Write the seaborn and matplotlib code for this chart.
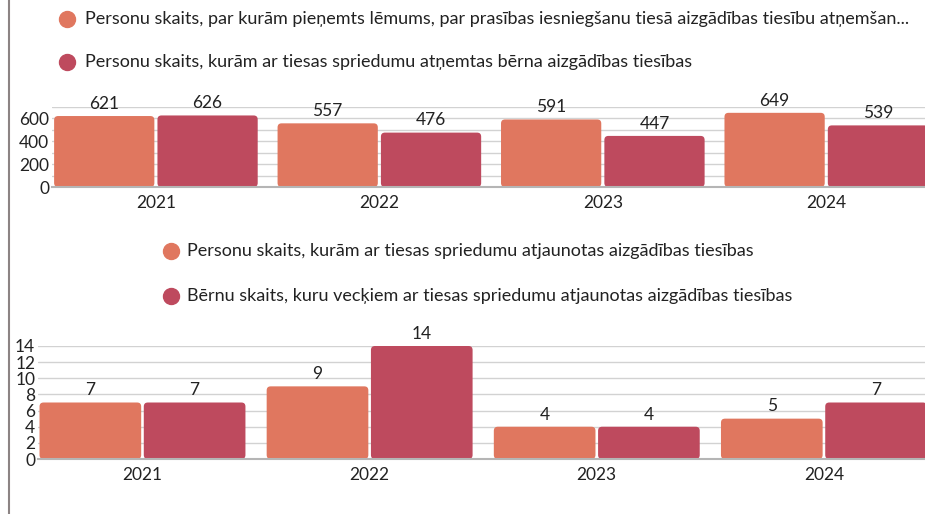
import numpy as np
import pandas as pd
import matplotlib
matplotlib.use('Agg')
import matplotlib.pyplot as plt
from matplotlib.lines import Line2D
from matplotlib.patches import FancyBboxPatch
import seaborn as sns

# Data
years = ['2021', '2022', '2023', '2024']
top_labels = [
    'Personu skaits, par kurām pieņemts lēmums, par prasības iesniegšanu tiesā aizgādības tiesību atņemšan...',
    'Personu skaits, kurām ar tiesas spriedumu atņemtas bērna aizgādības tiesības',
]
top_decided = [621, 557, 591, 649]
top_removed = [626, 476, 447, 539]
bottom_labels = [
    'Personu skaits, kurām ar tiesas spriedumu atjaunotas aizgādības tiesības',
    'Bērnu skaits, kuru vecķiem ar tiesas spriedumu atjaunotas aizgādības tiesības',
]
bottom_persons = [7, 9, 4, 5]
bottom_children = [7, 14, 4, 7]

colors = ['#E0775F', '#BE4A5E']
text_color = '#222222'

sns.set_style('white')
plt.rcParams['font.family'] = ['Lato', 'DejaVu Sans']

W, H = 925, 514
fig = plt.figure(figsize=(W / 100, H / 100), dpi=100)


def px_axes(left, top, right, bottom):
    return fig.add_axes([left / W, 1 - bottom / H, (right - left) / W, (bottom - top) / H])


def draw(ax, a, b, labels, ymax, step, xleft, width, gap, radius_px):
    df = pd.DataFrame({
        'year': years * 2,
        'value': a + b,
        'series': [labels[0]] * 4 + [labels[1]] * 4,
    })
    sns.barplot(data=df, x='year', y='value', hue='series', palette=colors,
                width=width, gap=gap, legend=False, ax=ax, saturation=1)
    ax.set_xlim(xleft, 3.5)
    ax.set_ylim(0, ymax)
    ax.set_yticks(np.arange(0, ymax + 1, step))
    ax.yaxis.grid(True, color='#d2d2d2', lw=1)
    ax.set_axisbelow(True)
    for s in ['top', 'right', 'left']:
        ax.spines[s].set_visible(False)
    ax.spines['bottom'].set_color('#b5b5b5')
    ax.spines['bottom'].set_linewidth(1.5)
    ax.tick_params(axis='both', length=0, labelsize=12.5, colors=text_color)
    ax.tick_params(axis='x', pad=6)
    ax.tick_params(axis='y', pad=2)
    ax.set_xlabel('')
    ax.set_ylabel('')
    for c in ax.containers:
        ax.bar_label(c, padding=3, fontsize=12.5, color=text_color)

    # rounded bar corners
    bbox = ax.get_window_extent()
    xr = ax.get_xlim()
    sx = (xr[1] - xr[0]) / bbox.width
    sy = ymax / bbox.height
    for p in list(ax.patches):
        x, y = p.get_x(), p.get_y()
        w, h = p.get_width(), p.get_height()
        fb = FancyBboxPatch((x, y), w, h,
                            boxstyle=f'round,pad=0,rounding_size={radius_px * sx}',
                            mutation_aspect=sy / sx,
                            facecolor=p.get_facecolor(), edgecolor='none', zorder=p.get_zorder())
        p.set_visible(False)
        ax.add_patch(fb)


# top chart
ax1 = px_axes(52, 107, 938, 187)
draw(ax1, top_decided, top_removed, top_labels, 700, 200, -0.465, 0.925, 0.03, 4)
ax1.set_yticks([0, 200, 400, 600])
ax1.set_yticks(np.arange(0, 701, 100), minor=True)
ax1.yaxis.grid(True, which='both', color='#d2d2d2', lw=1)

# bottom chart
ax2 = px_axes(38, 346, 937.5, 459)
draw(ax2, bottom_persons, bottom_children, bottom_labels, 14, 2, -0.46, 0.918, 0.025, 4)


def legend_row(x_dot, x_text, y, color, label):
    fig.add_artist(Line2D([x_dot / W], [1 - y / H], marker='o', markersize=11.5,
                          color=color, transform=fig.transFigure, linestyle='none'))
    fig.text(x_text / W, 1 - y / H, label, fontsize=13, color=text_color, va='center', ha='left')


legend_row(67, 85, 19, colors[0], top_labels[0])
legend_row(67, 85, 62, colors[1], top_labels[1])
legend_row(171, 187, 251, colors[0], bottom_labels[0])
legend_row(171, 187, 296, colors[1], bottom_labels[1])

# left frame line
fig.add_artist(Line2D([9 / W, 9 / W], [0, 1], color='#8c8484', lw=1.5, transform=fig.transFigure))

fig.savefig('out.png', dpi=100)
